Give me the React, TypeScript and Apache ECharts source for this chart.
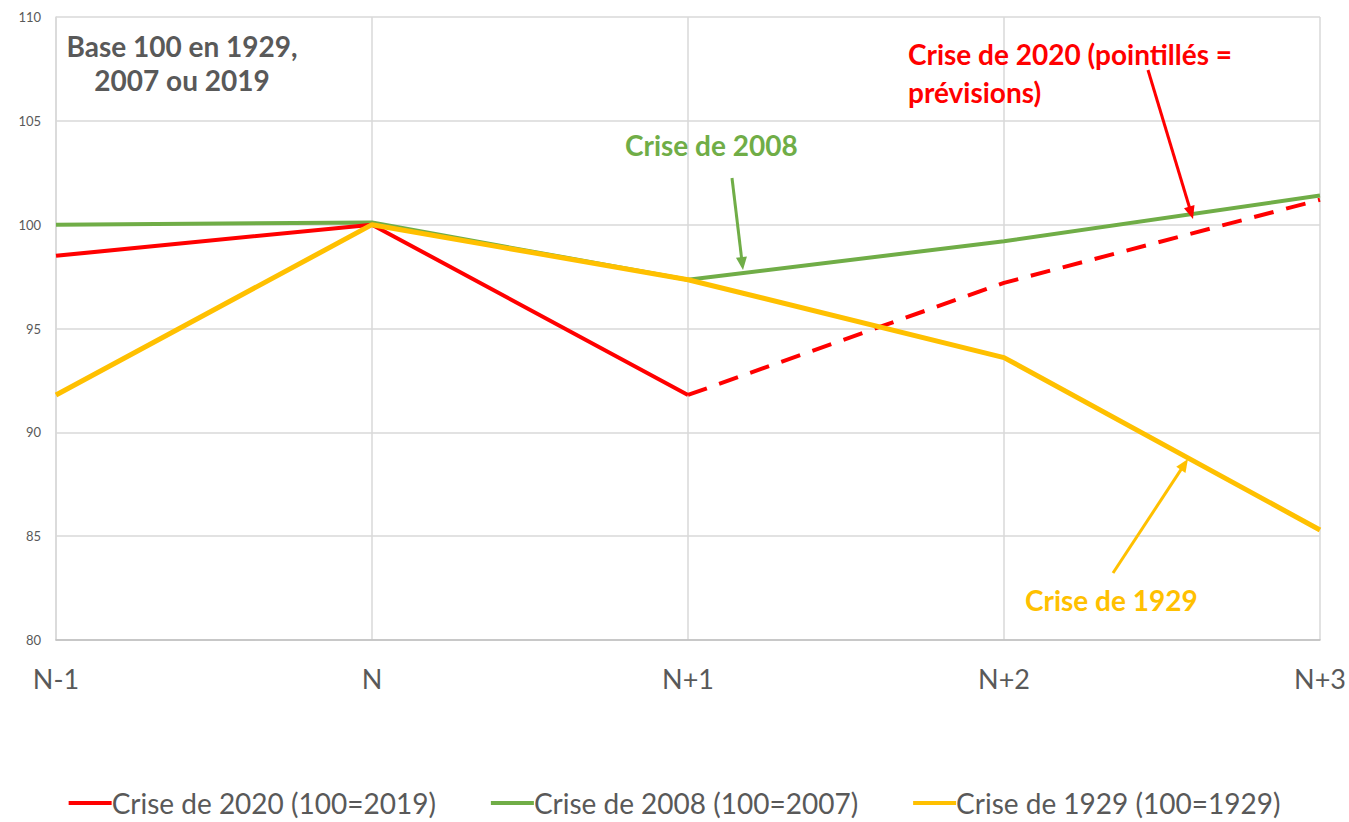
import React, { useEffect, useRef } from "react";
import * as echarts from "echarts";

const categories = ["N-1", "N", "N+1", "N+2", "N+3"];
const crise2020 = [98.5, 100, 91.8, null, null];
const crise2020Prev = [null, null, 91.8, 97.2, 101.2];
const crise2008 = [100, 100.1, 97.35, 99.2, 101.4];
const crise1929 = [91.8, 100, 97.35, 93.6, 85.3];
const yMin = 80;
const yMax = 110;
const yStep = 5;
const seriesNames = [
  "Crise de 2020 (100=2019)",
  "Crise de 2008 (100=2007)",
  "Crise de 1929 (100=1929)",
];

const FONT = "Lato, 'Open Sans', sans-serif";
const RED = "#ff0000";
const GREEN = "#70ad47";
const YELLOW = "#ffc000";
const GRAY = "#595959";

function arrow(x1: number, y1: number, x2: number, y2: number, color: string) {
  const dx = x2 - x1;
  const dy = y2 - y1;
  const len = Math.sqrt(dx * dx + dy * dy);
  const ux = dx / len;
  const uy = dy / len;
  const headLen = 13;
  const headHalf = 5.5;
  const bx = x2 - ux * headLen;
  const by = y2 - uy * headLen;
  const px = -uy;
  const py = ux;
  return [
    {
      type: "line",
      shape: { x1, y1, x2: bx + ux * 2, y2: by + uy * 2 },
      style: { stroke: color, lineWidth: 3 },
      z: 100,
    },
    {
      type: "polygon",
      shape: {
        points: [
          [x2, y2],
          [bx + px * headHalf, by + py * headHalf],
          [bx - px * headHalf, by - py * headHalf],
        ],
      },
      style: { fill: color },
      z: 100,
    },
  ];
}

export default function App() {
  const ref = useRef<HTMLDivElement>(null);
  useEffect(() => {
    if (!ref.current) return;
    const chart = echarts.init(ref.current, undefined, { renderer: "svg" });
    const option: any = {
      animation: false,
      backgroundColor: "#ffffff",
      textStyle: { fontFamily: FONT },
      grid: { left: 56, right: 29, top: 17, bottom: 182, containLabel: false },
      legend: {
        data: seriesNames,
        left: "center",
        top: 789,
        padding: 0,
        icon: "rect",
        itemWidth: 43,
        itemHeight: 4,
        itemGap: 55,
        textStyle: { fontFamily: FONT, fontSize: 28, color: GRAY, padding: [0, 0, 0, -5], lineHeight: 28 },
      },
      xAxis: {
        type: "category",
        data: categories,
        boundaryGap: false,
        axisLine: { show: true, lineStyle: { color: "#bfbfbf", width: 1.5 } },
        axisTick: { show: false },
        axisLabel: { fontFamily: FONT, fontSize: 27, color: GRAY, margin: 25 },
        splitLine: { show: true, lineStyle: { color: "#d9d9d9", width: 1.5 } },
      },
      yAxis: {
        type: "value",
        min: yMin,
        max: yMax,
        interval: yStep,
        axisLine: { show: true, lineStyle: { color: "#d9d9d9", width: 1.5 } },
        axisTick: { show: false },
        axisLabel: { fontFamily: FONT, fontSize: 13, color: GRAY, margin: 15 },
        splitLine: { show: true, lineStyle: { color: "#d9d9d9", width: 1.5 } },
      },
      series: [
        {
          name: seriesNames[1],
          type: "line",
          data: crise2008,
          symbol: "none",
          lineStyle: { color: GREEN, width: 4 },
          itemStyle: { color: GREEN },
          z: 2,
        },
        {
          name: seriesNames[0],
          type: "line",
          data: crise2020,
          symbol: "none",
          lineStyle: { color: RED, width: 4 },
          itemStyle: { color: RED },
          z: 3,
        },
        {
          name: "Crise de 2020 prévisions",
          type: "line",
          data: crise2020Prev,
          symbol: "none",
          lineStyle: { color: RED, width: 4, type: [20, 13] },
          itemStyle: { color: RED },
          z: 3,
        },
        {
          name: seriesNames[2],
          type: "line",
          data: crise1929,
          symbol: "none",
          lineStyle: { color: YELLOW, width: 5 },
          itemStyle: { color: YELLOW },
          z: 4,
        },
      ],
      graphic: [
        {
          type: "text",
          x: 182,
          y: 29,
          style: {
            text: "Base 100 en 1929,\n2007 ou 2019",
            align: "center",
            fontFamily: FONT,
            fontSize: 28,
            fontWeight: "bold",
            fill: GRAY,
            lineHeight: 34,
          },
          z: 100,
        },
        {
          type: "text",
          x: 625,
          y: 131,
          style: {
            text: "Crise de 2008",
            fontFamily: FONT,
            fontSize: 28,
            fontWeight: "bold",
            fill: GREEN,
          },
          z: 100,
        },
        {
          type: "text",
          x: 908,
          y: 35,
          style: {
            text: "Crise de 2020 (pointillés =\nprévisions)",
            fontFamily: FONT,
            fontSize: 28,
            fontWeight: "bold",
            fill: RED,
            lineHeight: 38,
          },
          z: 100,
        },
        {
          type: "text",
          x: 1025,
          y: 586,
          style: {
            text: "Crise de 1929",
            fontFamily: FONT,
            fontSize: 28,
            fontWeight: "bold",
            fill: YELLOW,
          },
          z: 100,
        },
        ...arrow(732, 178, 743, 270, GREEN),
        ...arrow(1148, 70, 1193, 219, RED),
        ...arrow(1113, 573, 1188, 459, YELLOW),
      ],
    };
    chart.setOption(option);
    return () => chart.dispose();
  }, []);
  return (
    <div
      ref={ref}
      style={{ position: "fixed", left: 0, top: 0, width: 1349, height: 822, background: "#fff" }}
    />
  );
}
